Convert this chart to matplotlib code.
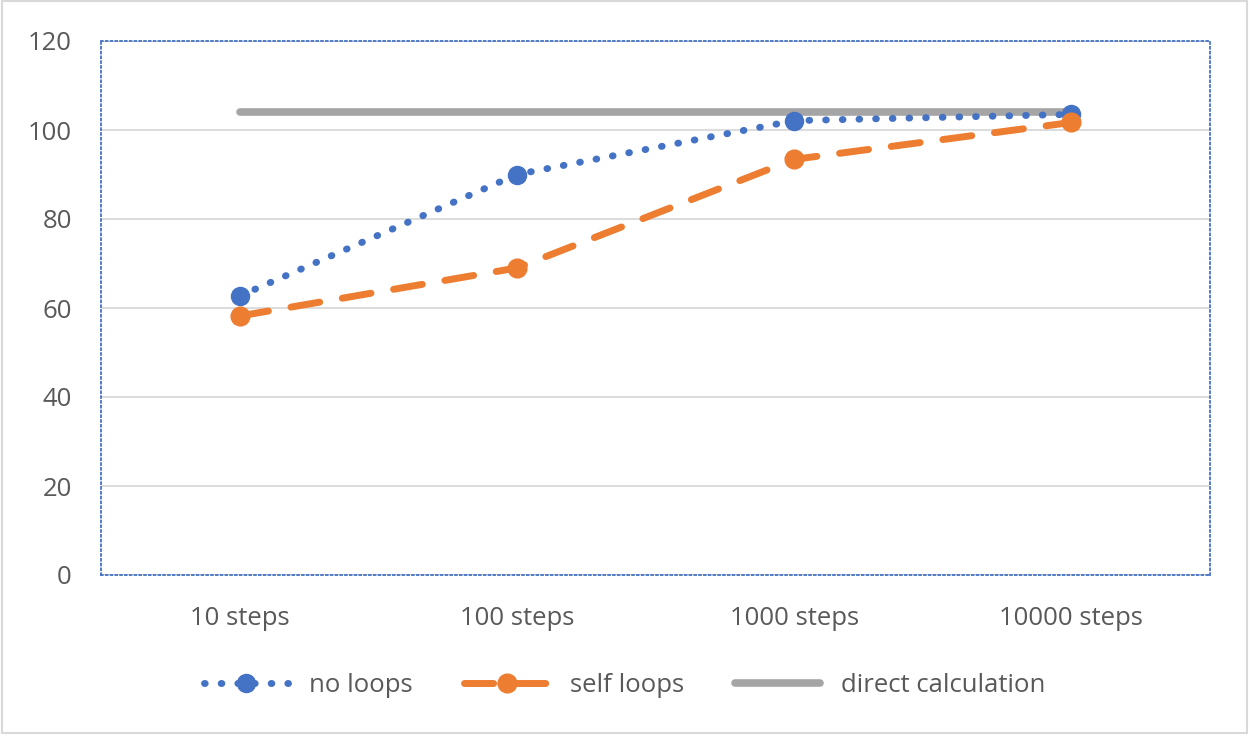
import numpy as np
import matplotlib
matplotlib.use('Agg')
import matplotlib.pyplot as plt
from matplotlib.patches import Rectangle

categories = ['10 steps', '100 steps', '1000 steps', '10000 steps']
no_loops = [62.7, 90.0, 102.1, 103.5]
self_loops = [58.2, 69.0, 93.4, 101.7]
direct_calc = [104.0, 104.0, 104.0, 104.0]
y_ticks = [0, 20, 40, 60, 80, 100, 120]

plt.rcParams['font.family'] = ['Open Sans', 'DejaVu Sans']

fig = plt.figure(figsize=(12.49, 7.34), dpi=100)
ax = fig.add_axes([101/1249, 1 - 575/734, (1210-101)/1249, (575-41)/734])

x = np.arange(len(categories))
ax.plot(x, direct_calc, '-', color='#a5a5a5', lw=5.5, solid_capstyle='round',
        label='direct calculation', zorder=2)
ax.plot(x, no_loops, linestyle=(0, (0.1, 2.3)), color='#4472c4', lw=5,
        dash_capstyle='round', marker='o', markersize=13, label='no loops', zorder=3)
ax.plot(x, self_loops, linestyle=(0, (4.2, 3.3)), color='#ed7d31', lw=5,
        dash_capstyle='round', marker='o', markersize=13.5, label='self loops', zorder=3)

ax.set_xlim(-0.5, 3.5)
ax.set_ylim(0, 120)
ax.set_yticks(y_ticks)
ax.set_xticks(x)
ax.set_xticklabels(categories)
ax.grid(axis='y', color='#d9d9d9', lw=1.3)
ax.set_axisbelow(True)
ax.tick_params(length=0, labelsize=18.5, colors='#595959')
ax.tick_params(axis='y', pad=21)
ax.tick_params(axis='x', pad=22)
for s in ax.spines.values():
    s.set_color('#4472c4')
    s.set_linestyle(':')
    s.set_linewidth(1.3)

handles, labels = ax.get_legend_handles_labels()
order = [1, 2, 0]
fig.legend([handles[i] for i in order], [labels[i] for i in order],
           loc='center', bbox_to_anchor=(0.5, 1 - 685/734), ncol=3, frameon=False,
           fontsize=18.5, labelcolor='#595959', handlelength=3.3, columnspacing=2.0,
           handletextpad=0.8)

fig.patches.append(Rectangle((0.002, 0.002), 0.996, 0.996, transform=fig.transFigure,
                             fill=False, edgecolor='#d9d9d9', lw=1.5))

fig.savefig('out.png', dpi=100)
